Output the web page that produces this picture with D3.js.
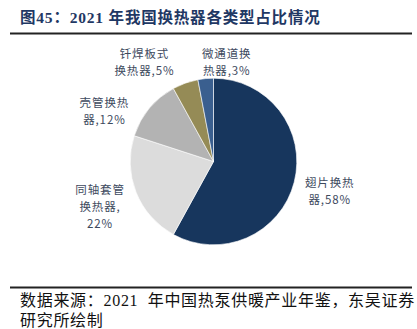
<!DOCTYPE html>
<html><head><meta charset="utf-8">
<script src="https://cdn.jsdelivr.net/npm/d3@7/dist/d3.min.js"></script>
<style>
html,body{margin:0;padding:0;background:#fff;overflow:hidden;}
svg{display:block;}
</style></head>
<body>
<svg id="c" width="417" height="329"></svg>
<script>
const categories = ["翅片换热器", "同轴套管换热器", "壳管换热器", "钎焊板式换热器", "微通道换热器"];
const values = [58, 22, 12, 5, 3];
const labelLines = [["翅片换热", "器,58%"], ["同轴套管", "换热器,", "22%"], ["壳管换热", "器,12%"], ["钎焊板式", "换热器,5%"], ["微通道换", "热器,3%"]];
const colors = ["#17365D", "#DCDCDC", "#B3B3B3", "#958B56", "#3A5F8F"];
const titleText = "图45：2021 年我国换热器各类型占比情况";
const sourceLines = ["数据来源：2021  年中国热泵供暖产业年鉴，东吴证券", "研究所绘制"];
// label layout nudges (angle offset in degrees, radius)
const labelAdjust = [[0, 120], [0, 122], [-15, 120], [-15, 121], [13, 100]];

const svg = d3.select("#c");
const cx = 213.5, cy = 161.5, R = 83.3;

// title
svg.append("text").attr("x", 20).attr("y", 23)
  .attr("font-family", "'Liberation Serif','Noto Sans CJK SC',serif")
  .attr("font-weight", "bold").attr("font-size", 15.5).attr("fill", "#1F3864")
  .attr("letter-spacing", 0.8).style("white-space", "pre")
  .text(titleText);
svg.append("line").attr("x1", 10).attr("x2", 412).attr("y1", 33.5).attr("y2", 33.5)
  .attr("stroke", "#222").attr("stroke-width", 2);

// pie
const pie = d3.pie().sort(null).value(d => d)(values);
const arc = d3.arc().innerRadius(0).outerRadius(R);
const g = svg.append("g").attr("transform", `translate(${cx},${cy})`);
g.selectAll("path").data(pie).join("path")
  .attr("d", arc).attr("fill", (d, i) => colors[i])
  .attr("stroke", "#fff").attr("stroke-width", 0.6);

// labels
const lh = 17;
pie.forEach((d, i) => {
  const a = (d.startAngle + d.endAngle) / 2 + labelAdjust[i][0] * Math.PI / 180;
  const r = labelAdjust[i][1];
  const x = r * Math.sin(a), y = -r * Math.cos(a);
  const lines = labelLines[i];
  lines.forEach((s, k) => {
    g.append("text").attr("text-anchor", "middle")
      .attr("font-family", "'Noto Sans CJK SC','Liberation Serif',serif")
      .attr("font-size", 11.5).attr("letter-spacing", 0.9).attr("fill", "#3E4A5E")
      .attr("x", x)
      .attr("y", y + (k - (lines.length - 1) / 2) * lh + 4.2)
      .text(s);
  });
});

// footer
svg.append("line").attr("x1", 10).attr("x2", 412).attr("y1", 287.5).attr("y2", 287.5)
  .attr("stroke", "#222").attr("stroke-width", 2);
sourceLines.forEach((s, k) => {
  svg.append("text").attr("x", 20).attr("y", 306 + k * 20)
    .attr("font-family", "'Liberation Serif','Noto Sans CJK SC',serif")
    .attr("font-size", 16).attr("fill", "#111")
    .attr("letter-spacing", 0.7).style("white-space", "pre").text(s);
});
</script>
</body></html>
